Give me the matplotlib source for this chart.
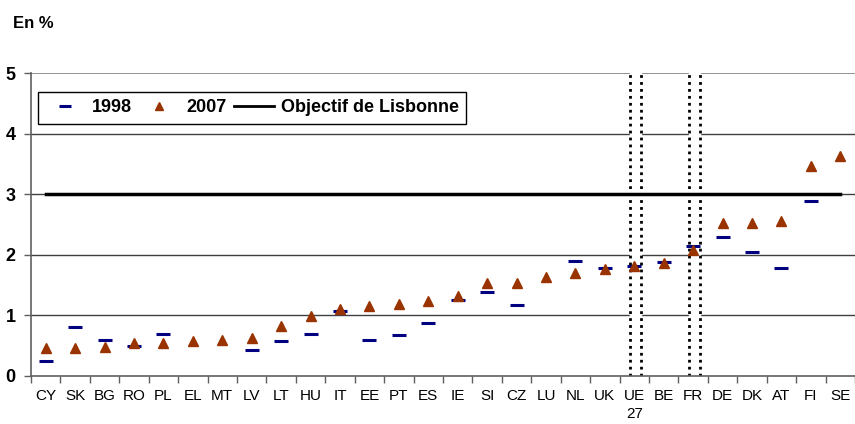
import numpy as np
import matplotlib
matplotlib.use('Agg')
import matplotlib.pyplot as plt
from matplotlib.lines import Line2D

plt.rcParams['font.family'] = ['Liberation Sans', 'DejaVu Sans']

countries = ['CY', 'SK', 'BG', 'RO', 'PL', 'EL', 'MT', 'LV', 'LT', 'HU',
             'IT', 'EE', 'PT', 'ES', 'IE', 'SI', 'CZ', 'LU', 'NL', 'UK',
             'UE\n27', 'BE', 'FR', 'DE', 'DK', 'AT', 'FI', 'SE']
y1998 = [0.24, 0.81, 0.59, 0.50, 0.69, np.nan, np.nan, 0.43, 0.57, 0.69,
         1.07, 0.59, 0.67, 0.88, 1.26, 1.38, 1.17, np.nan, 1.90, 1.79,
         1.81, 1.88, 2.15, 2.29, 2.05, 1.79, 2.88, np.nan]
y2007 = [0.46, 0.46, 0.48, 0.55, 0.55, 0.58, 0.60, 0.63, 0.83, 0.99,
         1.10, 1.16, 1.18, 1.23, 1.32, 1.54, 1.54, 1.63, 1.70, 1.77,
         1.82, 1.87, 2.08, 2.53, 2.53, 2.56, 3.47, 3.63]
lisbonne = 3
highlight = ['UE\n27', 'FR']

x = np.arange(len(countries))

fig = plt.figure(figsize=(8.55, 4.24), dpi=100)
ax = fig.add_axes([31 / 855, 1 - 376 / 424, 824 / 855, 303 / 424])

# grid lines
for v in [1, 2, 3, 4]:
    ax.axhline(v, color='#404040', lw=1, zorder=0.5)
ax.axhline(5, color='#808080', lw=1.2, zorder=0.5)

# highlighted columns (white band with dotted edges)
for c in highlight:
    i = countries.index(c) + 0.04
    ax.axvspan(i - 0.19, i + 0.19, color='white', zorder=1)
    for xv in (i - 0.19, i + 0.19):
        ax.axvline(xv, color='black', lw=2, linestyle=(0, (1, 1.5)), zorder=2)

ax.plot([x[0], x[-1]], [lisbonne, lisbonne], color='black', lw=2.5, zorder=3)
ax.plot(x, y1998, linestyle='none', marker='_', markersize=9.5, markeredgewidth=2.2,
        color='#000080', zorder=4)
ax.plot(x, y2007, linestyle='none', marker='^', markersize=7.5,
        color='#993300', zorder=5)

ax.set_xlim(-0.5, len(countries) - 0.5)
ax.set_ylim(0, 5)

ax.set_yticks([0, 1, 2, 3, 4, 5])
ax.set_yticklabels(['0', '1', '2', '3', '4', '5'], fontsize=13, fontweight='bold')
ax.tick_params(axis='y', length=5, width=1, color='#606060', pad=6)

ax.set_xticks(x)
ax.set_xticklabels(countries, fontsize=11, linespacing=1.45)
ax.set_xticks(np.arange(-0.5, len(countries), 1), minor=True)
ax.tick_params(axis='x', which='major', length=0, pad=9)
ax.tick_params(axis='x', which='minor', length=5, width=1, color='#606060')

for s in ['top', 'right']:
    ax.spines[s].set_visible(False)
ax.spines['left'].set_color('#606060')
ax.spines['bottom'].set_color('#606060')
ax.spines['left'].set_linewidth(1.2)
ax.spines['bottom'].set_linewidth(1.2)

handles = [
    Line2D([], [], linestyle='none', marker='_', markersize=9, markeredgewidth=2.2, color='#000080'),
    Line2D([], [], linestyle='none', marker='^', markersize=6, color='#993300'),
    Line2D([], [], color='black', lw=2),
]
leg = ax.legend(handles, ['1998', '2007', 'Objectif de Lisbonne'], ncol=3,
                loc='upper left', bbox_to_anchor=(0.0085, 0.937), borderaxespad=0,
                fancybox=False, edgecolor='black', framealpha=1,
                prop={'size': 13, 'weight': 'bold'}, handlelength=2.2,
                columnspacing=0.4, handletextpad=0.4, borderpad=0.4)
leg.get_frame().set_linewidth(1)
leg.set_zorder(6)

fig.text(13 / 855, 1 - 23 / 424, 'En %', fontsize=12, fontweight='bold', va='center')

fig.savefig('out.png', dpi=100)
